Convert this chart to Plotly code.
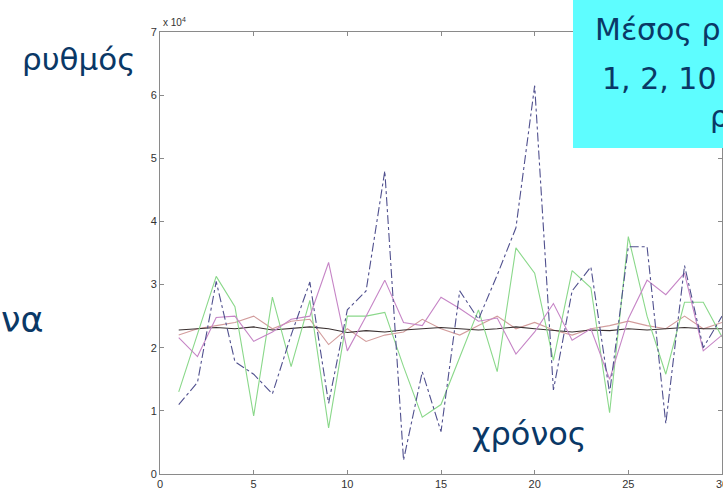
import plotly.graph_objects as go

# time (seconds)
t = list(range(1, 31))

# average rate (x 10^4) for different averaging windows
rate_1 = [1.1, 1.45, 3.05, 1.78, 1.58, 1.27, 2.2, 3.04, 1.12, 2.6, 2.9, 4.8, 0.22, 1.62, 0.67,
          2.9, 2.45, 3.15, 3.9, 6.15, 1.33, 2.9, 3.28, 1.28, 3.6, 3.6, 0.8, 3.3, 2.0, 2.5]
rate_2 = [1.3, 2.2, 3.13, 2.65, 0.92, 2.8, 1.7, 2.75, 0.73, 2.5, 2.5, 2.56, 1.7, 0.9, 1.1,
          1.85, 2.6, 1.62, 3.58, 3.18, 1.8, 3.22, 2.95, 0.97, 3.76, 2.5, 1.58, 2.72, 2.72, 2.17]
rate_10 = [2.16, 1.86, 2.48, 2.5, 2.1, 2.25, 2.45, 2.5, 3.35, 1.95, 2.5, 3.07, 2.4, 2.35, 2.8,
           2.62, 2.42, 2.47, 1.9, 2.25, 2.7, 2.12, 2.3, 1.5, 2.46, 3.07, 2.84, 3.18, 1.95, 2.2]
rate_30 = [2.2, 2.3, 2.35, 2.4, 2.5, 2.3, 2.42, 2.45, 2.05, 2.3, 2.1, 2.2, 2.25, 2.45, 2.3,
           2.2, 2.35, 2.5, 2.3, 2.4, 2.28, 2.2, 2.3, 2.35, 2.42, 2.35, 2.3, 2.5, 2.3, 2.4]
rate_all = [2.28, 2.3, 2.32, 2.3, 2.33, 2.28, 2.3, 2.33, 2.3, 2.24, 2.27, 2.25, 2.28, 2.3, 2.32,
            2.3, 2.28, 2.3, 2.33, 2.3, 2.27, 2.25, 2.28, 2.27, 2.3, 2.28, 2.3, 2.32, 2.3, 2.3]

x_ticks = [0, 5, 10, 15, 20, 25, 30]
y_ticks = [0, 1, 2, 3, 4, 5, 6, 7]

series = [
    (rate_30, "#d29c9c", "solid"),
    (rate_all, "#3a3030", "solid"),
    (rate_2, "#8ad88a", "solid"),
    (rate_10, "#c685c6", "solid"),
    (rate_1, "#50508e", "dashdot"),
]

fig = go.Figure()
for vals, col, dash in series:
    fig.add_trace(go.Scatter(x=t, y=vals, mode="lines",
                             line=dict(color=col, width=1.1, dash=dash),
                             showlegend=False, hoverinfo="skip"))

axis_common = dict(showline=True, linecolor="#8a8a8a", linewidth=1, mirror="ticks",
                   ticks="inside", ticklen=4, tickcolor="#8a8a8a", showgrid=False,
                   zeroline=False, tickfont=dict(family="Liberation Sans", size=11, color="#333"),
                   automargin=False, ticklabeloverflow="allow")
fig.update_xaxes(range=[0, 30], tickvals=x_ticks, ticktext=[str(v) for v in x_ticks], **axis_common)
fig.update_yaxes(range=[0, 7], tickvals=y_ticks, ticktext=[str(v) for v in y_ticks], **axis_common)

W, H = 723, 491
L, R, T, B = 160, 1, 32, 17
PW, PH = W - L - R, H - T - B


def px(x):
    return (x - L) / PW


def py(y):
    return 1 - (y - T) / PH


navy = "#0a3866"
txt = "DejaVu Sans"
fig.update_layout(
    width=W, height=H,
    margin=dict(l=L, r=R, t=T, b=B),
    paper_bgcolor="white", plot_bgcolor="white",
    font=dict(family=txt),
    shapes=[dict(type="rect", xref="paper", yref="paper", x0=px(573), x1=px(730),
                 y0=py(148), y1=py(-5), fillcolor="#5efdff", line=dict(width=0), layer="above")],
    annotations=[
        dict(text="x 10<sup>4</sup>", xref="paper", yref="paper", x=px(161), y=py(30),
             xanchor="left", yanchor="bottom", showarrow=False,
             font=dict(family="Liberation Sans", size=10, color="#333")),
        dict(text="ρυθμός", xref="paper", yref="paper", x=px(137), y=py(59),
             xanchor="right", yanchor="middle", showarrow=False,
             font=dict(family=txt, size=31, color=navy)),
        dict(text="να", xref="paper", yref="paper", x=px(-1), y=py(320),
             xanchor="left", yanchor="middle", showarrow=False,
             font=dict(family=txt, size=35, color=navy)),
        dict(text="χρόνος", xref="paper", yref="paper", x=px(470), y=py(434),
             xanchor="left", yanchor="middle", showarrow=False,
             font=dict(family=txt, size=32, color=navy)),
        dict(text="Μέσος ρ", xref="paper", yref="paper", x=px(593), y=py(29),
             xanchor="left", yanchor="middle", showarrow=False,
             font=dict(family=txt, size=30, color=navy)),
        dict(text="1, 2, 10", xref="paper", yref="paper", x=px(600), y=py(79),
             xanchor="left", yanchor="middle", showarrow=False,
             font=dict(family=txt, size=30, color=navy)),
        dict(text="ρ", xref="paper", yref="paper", x=px(708), y=py(116),
             xanchor="left", yanchor="middle", showarrow=False,
             font=dict(family=txt, size=30, color=navy)),
    ],
)

fig.write_html("out.html", config={"displayModeBar": False},
               post_script="document.body.style.margin='0px';document.body.style.overflow='hidden';")
